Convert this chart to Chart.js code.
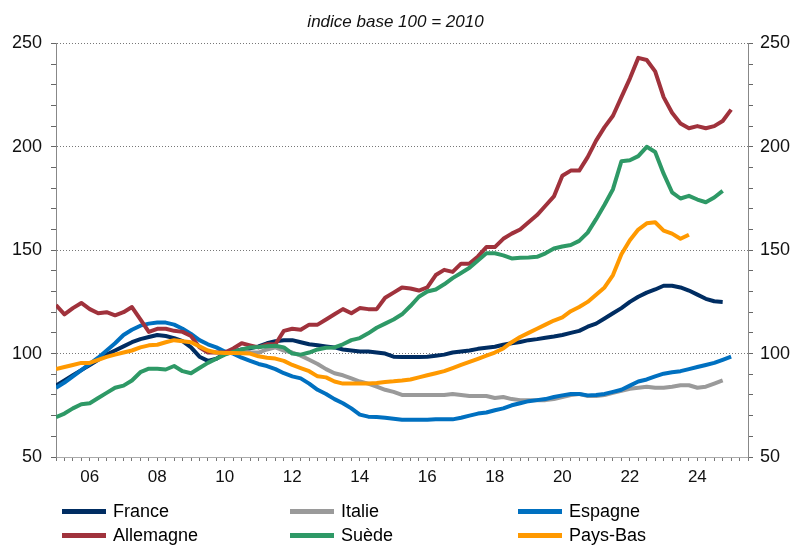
<!DOCTYPE html>
<html>
<head>
<meta charset="utf-8">
<script src="https://cdn.jsdelivr.net/npm/chart.js@4/dist/chart.umd.min.js"></script>
<style>
  html, body { margin: 0; padding: 0; background: #fff; }
  #wrap { position: relative; width: 791px; height: 545px; }
  #legend {
    position: absolute; left: 62px; top: 499px;
    display: grid; grid-template-columns: 228px 228px 228px; grid-auto-rows: 24px;
    font: 18px "Liberation Sans", Arial, sans-serif; color: #000;
  }
  .item { display: flex; align-items: center; }
  .swatch { width: 44px; height: 5px; margin-right: 7px; }
</style>
</head>
<body>
<div id="wrap">
  <canvas id="chart" width="791" height="545"></canvas>
  <div id="legend"></div>
</div>
<script>
// quarterly series, indice base 100 = 2010
const names = ['France', 'Italie', 'Espagne', 'Allemagne', 'Suède', 'Pays-Bas'];
const colors = ['#002D62', '#9A9A9A', '#0070C0', '#A0323C', '#2E9966', '#FF9900'];
const starts = [2005, 2010, 2005, 2005, 2005, 2005]; // first quarter of each series

const france = [84.5, 87, 89.5, 92, 94.5, 97, 99.5, 101.5, 103.5, 105.5,
  107, 108, 109, 108.5, 107.5, 106, 103, 98.5, 96.5, 97.5,
  100, 101, 102, 102.5, 103.5, 105, 106, 106.5, 106.5, 105.5,
  104.5, 104, 103.5, 103, 102, 101.5, 101, 101, 100.5, 100,
  98.5, 98.3, 98.3, 98.3, 98.5, 99, 99.5, 100.5, 101, 101.5,
  102.3, 102.8, 103.3, 104.3, 105, 105.6, 106.5, 107, 107.7, 108.3,
  109, 110, 111, 113, 114.5, 117, 119.5, 122, 125, 127.5,
  129.5, 131, 132.8, 132.8, 132, 130.5, 128.5, 126.5, 125.3, 125];

const italie = [100, 100.5, 101, 100.5, 100.5, 102, 103, 101.5, 100.5, 99,
  97, 95, 92.5, 90.5, 89.5, 88, 86.5, 85.5, 84, 82.5,
  81.5, 80, 80, 80, 80, 80, 80, 80.5, 80, 79.5,
  79.5, 79.5, 78.5, 79, 78, 77.5, 77.5, 77.5, 77.5, 78,
  79, 80, 80.5, 79.5, 79.5, 80, 81, 82, 83, 83.5,
  84, 83.5, 83.5, 84, 84.7, 84.7, 83.5, 84, 85.5, 87];

const espagne = [83.5, 86, 89, 92, 95, 98, 101.5, 105, 109, 111.5,
  113.5, 114.5, 115, 115, 114, 112, 109.5, 106.5, 104.5, 103,
  101, 100, 98, 96.5, 95, 94, 92.5, 90.5, 89, 88,
  85.5, 82.5, 80.5, 78, 76, 73.5, 70.5, 69.5, 69.3, 69,
  68.5, 68, 68, 68, 68, 68.3, 68.3, 68.2, 69, 70,
  71, 71.5, 72.6, 73.5, 75, 76, 77, 77.5, 78, 79,
  79.8, 80.5, 80.5, 79.8, 80, 80.5, 81.5, 82.5, 84.5, 86.5,
  87.5, 89, 90.3, 91, 91.5, 92.5, 93.5, 94.5, 95.5, 97,
  98.5];

const allemagne = [123.5, 119, 122, 124.5, 121.5, 119.5, 120, 118.5, 120, 122.5,
  116.5, 110.5, 112, 112, 111, 110.5, 108.5, 103, 100.5, 100.5,
  100.5, 102.5, 105, 104, 103, 104.5, 104.5, 111, 112, 111.5,
  114, 114, 116.5, 119, 121.5, 119.5, 122, 121.5, 121.5, 127,
  129.5, 132, 131.5, 130.5, 132, 138, 140.5, 139.5, 143.5, 143.5,
  147, 151.5, 151.5, 155.5, 158, 160, 163.5, 167, 171.5, 176,
  186, 188.5, 188.5, 195, 203, 209.5, 215, 224, 233, 243,
  242, 236.5, 224, 216.5, 211.3, 209, 210, 209, 210, 212.5,
  218];

const suede = [69.3, 71, 73.5, 75.5, 76, 78.5, 81, 83.5, 84.5, 87,
  91, 92.7, 92.7, 92.3, 94, 91.5, 90.5, 93, 95.5, 97.5,
  99.5, 100.8, 102, 103, 103.2, 103.5, 103.8, 103, 100, 99.5,
  100.5, 102, 102.8, 103, 104.5, 106.5, 107.5, 109.8, 112.5, 114.5,
  116.5, 119, 123, 127.5, 130, 131, 133.5, 136.5, 139, 141.5,
  145, 148.5, 148.5, 147.5, 146, 146.4, 146.5, 146.8, 148.5, 150.8,
  151.8, 152.5, 154.5, 158.5, 165, 172, 179.5, 193, 193.5, 195.5,
  200, 197.5, 187, 178, 175, 176.3, 174.5, 173.2, 175.5, 178.7];

const paysBas = [92.5, 93.5, 94.5, 95.5, 95.5, 97, 98.4, 99.5, 100.5, 101.5,
  103, 104, 104.3, 105.5, 106.5, 106, 105.5, 103.5, 101.5, 100.5,
  100.3, 100.3, 100.2, 100, 98.7, 98, 97.6, 96.5, 94.5, 93,
  91.5, 89, 88.5, 86.5, 85.5, 85.5, 85.5, 85.5, 85.8, 86.3,
  86.6, 87, 87.5, 88.5, 89.5, 90.5, 91.5, 93, 94.5, 96,
  97.5, 99, 100.5, 102.5, 105.5, 108, 110, 112, 114, 116,
  117.5, 120.5, 122.5, 125, 128.5, 132, 138, 148, 154.8, 160,
  163, 163.5, 159.5, 158, 155.5, 157.5];

const series = [france, italie, espagne, allemagne, suede, paysBas];
const yTicks = [50, 100, 150, 200, 250];
const FONT = '"Liberation Sans", Arial, sans-serif';

const datasets = series.map((vals, i) => ({
  label: names[i],
  data: vals.map((v, k) => ({ x: starts[i] + k * 0.25, y: v })),
  borderColor: colors[i],
  backgroundColor: colors[i],
  borderWidth: 4,
  pointRadius: 0,
  tension: 0,
  fill: false,
  borderJoinStyle: 'round',
  order: series.length - i   // later series drawn on top, like the original
}));

const yLabel = v => yTicks.includes(v) ? String(v) : '';

new Chart(document.getElementById('chart'), {
  type: 'line',
  data: { datasets },
  options: {
    responsive: false,
    animation: false,
    layout: { padding: { left: 0, right: 0, top: 0, bottom: 48 } },
    plugins: {
      legend: { display: false },
      tooltip: { enabled: false },
      title: {
        display: true,
        text: 'indice base 100 = 2010',
        color: '#111',
        font: { family: FONT, size: 17, style: 'italic', weight: 'normal' },
        padding: { top: 12, bottom: 11 }
      }
    },
    scales: {
      x: {
        type: 'linear',
        min: 2005,
        max: 2025.5,
        afterFit: s => { s.height = 40; },
        ticks: {
          stepSize: 0.25,
          autoSkip: false,
          maxRotation: 0,
          minRotation: 0,
          padding: 6,
          color: '#111',
          font: { family: FONT, size: 17 },
          callback: v => {
            const y = Math.round(v);
            return Math.abs(v - y) < 1e-6 && y % 2 === 0 ? String(y % 100).padStart(2, '0') : '';
          }
        },
        grid: { drawOnChartArea: false, tickLength: 4, tickColor: '#777' },
        border: { color: '#aaa' }
      },
      y: {
        position: 'left',
        min: 50,
        max: 250,
        afterFit: s => { s.width = 56; },
        ticks: {
          stepSize: 10, autoSkip: false, padding: 9, color: '#111',
          font: { family: FONT, size: 18 },
          callback: yLabel
        },
        grid: {
          color: c => (c.tick && c.tick.value > 50 && c.tick.value % 50 === 0) ? '#777' : 'rgba(0,0,0,0)',
          tickColor: '#666',
          tickLength: 5,
          lineWidth: 1
        },
        border: { color: '#888', dash: [1, 2] }
      },
      y2: {
        position: 'right',
        min: 50,
        max: 250,
        afterFit: s => { s.width = 43; },
        ticks: {
          stepSize: 10, autoSkip: false, padding: 7, color: '#111',
          font: { family: FONT, size: 18 },
          callback: yLabel
        },
        grid: { drawOnChartArea: false, tickColor: '#666', tickLength: 5 },
        border: { color: '#888' }
      }
    }
  }
});

// legend, 3 columns x 2 rows
const legend = document.getElementById('legend');
names.forEach((n, i) => {
  const item = document.createElement('div');
  item.className = 'item';
  const sw = document.createElement('span');
  sw.className = 'swatch';
  sw.style.background = colors[i];
  const txt = document.createElement('span');
  txt.textContent = n;
  item.appendChild(sw);
  item.appendChild(txt);
  legend.appendChild(item);
});
</script>
</body>
</html>
